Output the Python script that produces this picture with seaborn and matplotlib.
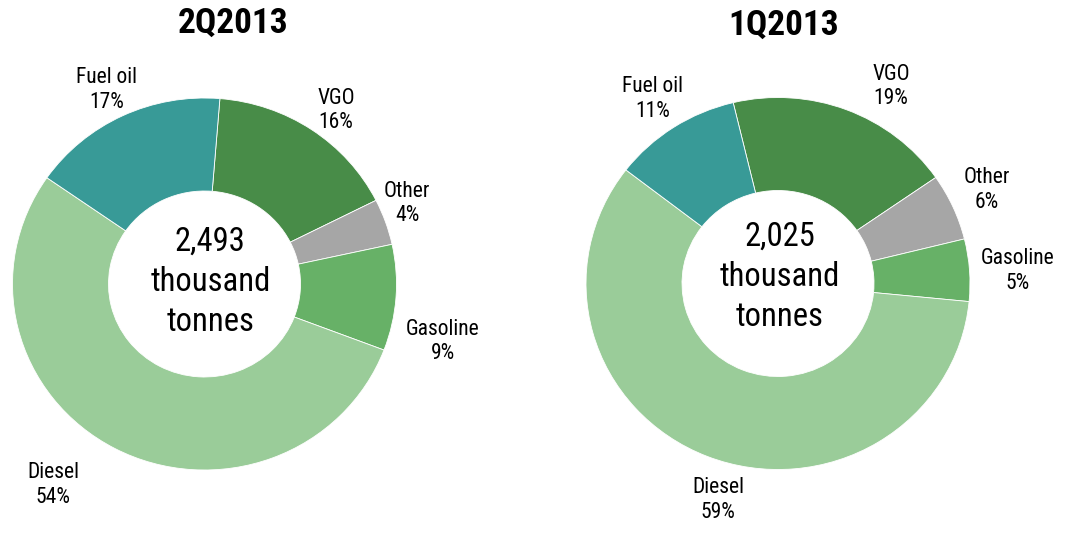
import matplotlib
matplotlib.use("Agg")
import matplotlib.pyplot as plt
import seaborn as sns
from matplotlib import font_manager

# ---------------- data ----------------
categories = ["VGO", "Other", "Gasoline", "Diesel", "Fuel oil"]
q2_values = [16.3, 4.0, 9.2, 53.9, 16.6]      # 2Q2013 shares (%)
q1_values = [19.1, 5.8, 5.4, 58.9, 10.8]      # 1Q2013 shares (%)
q2_total = "2,493"
q1_total = "2,025"
titles = ["2Q2013", "1Q2013"]
unit_label = "thousand\ntonnes"

# ---------------- style ----------------
sns.set_theme(style="white")
names = {f.name for f in font_manager.fontManager.ttflist}


def pick(prefs):
    for p in prefs:
        if p in names:
            return p
    return "Liberation Sans"


fam = pick(["Roboto Condensed", "Archivo Narrow", "PT Sans Narrow", "Liberation Sans"])
plt.rcParams["font.family"] = [fam, "DejaVu Sans"]

colors = {"VGO": "#488C48", "Other": "#A6A6A6", "Gasoline": "#67B167",
          "Diesel": "#9ACC99", "Fuel oil": "#389A97"}

W, H = 1071, 539
fig = plt.figure(figsize=(W / 100, H / 100), dpi=100)
fig.patch.set_facecolor("white")

RX, RY = 192, 186
panels = [
    dict(cx=204.5, cy=284.0, vals=q2_values, total=q2_total, title=titles[0],
         start=85.4, title_pos=(0.148, 1.40), center_pos=(0.03, 0.011),
         label_pos={"Fuel oil": (-0.508, 1.043), "VGO": (0.685, 0.933),
                    "Other": (1.055, 0.433), "Gasoline": (1.242, -0.309),
                    "Diesel": (-0.789, -1.081)}),
    dict(cx=778.0, cy=283.5, vals=q1_values, total=q1_total, title=titles[1],
         start=103.5, title_pos=(0.03, 1.39), center_pos=(0.01, 0.035),
         label_pos={"Fuel oil": (-0.654, 0.992), "VGO": (0.589, 1.059),
                    "Other": (1.086, 0.503), "Gasoline": (1.25, 0.067),
                    "Diesel": (-0.3125, -1.164)}),
]

for p in panels:
    m = 1.1
    ax = fig.add_axes([(p["cx"] - m * RX) / W, (H - p["cy"] - m * RY) / H,
                       2 * m * RX / W, 2 * m * RY / H])
    ax.pie(p["vals"], colors=[colors[c] for c in categories],
           startangle=p["start"], counterclock=False, radius=1.0,
           wedgeprops=dict(width=0.5, edgecolor="white", linewidth=0.6))
    ax.set_xlim(-m, m)
    ax.set_ylim(-m, m)
    ax.set_aspect("auto")
    ax.axis("off")
    for c, v in zip(categories, p["vals"]):
        x, y = p["label_pos"][c]
        ax.text(x, y, f"{c}\n{v:.0f}%", ha="center", va="center",
                fontsize=15.5, color="black", linespacing=1.2, clip_on=False)
    ax.text(*p["center_pos"], f"{p['total']}\n{unit_label}", ha="center",
            va="center", fontsize=23.5, color="black", linespacing=1.32)
    ax.text(*p["title_pos"], p["title"], ha="center", va="center",
            fontsize=25.5, fontweight="bold", color="black", clip_on=False)

fig.savefig("out.png", dpi=100, facecolor="white")
